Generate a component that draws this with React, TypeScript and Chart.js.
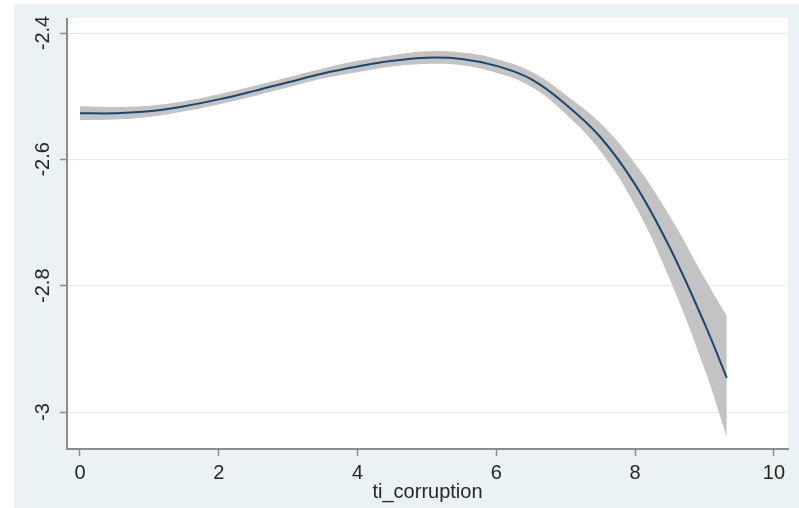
import React, { useEffect, useRef } from "react";
import { Chart, registerables } from "chart.js";

Chart.register(...registerables);

// Data
const X_VALUES = [0, 0.5, 1, 1.5, 2, 2.5, 3, 3.5, 4, 4.5, 5, 5.5, 6, 6.5, 7, 7.5, 8, 8.5, 9, 9.32];
const FIT_VALUES = [-2.527, -2.527, -2.524, -2.516, -2.505, -2.492, -2.478, -2.464, -2.453, -2.444, -2.439, -2.441, -2.452, -2.473, -2.513, -2.565, -2.64, -2.74, -2.86, -2.946];
const CI_UPPER = [-2.516, -2.517, -2.515, -2.508, -2.497, -2.484, -2.47, -2.456, -2.444, -2.435, -2.429, -2.431, -2.441, -2.461, -2.498, -2.543, -2.607, -2.69, -2.788, -2.848];
const CI_LOWER = [-2.538, -2.537, -2.533, -2.524, -2.513, -2.5, -2.486, -2.472, -2.462, -2.453, -2.449, -2.451, -2.463, -2.485, -2.528, -2.587, -2.673, -2.79, -2.932, -3.04];

const X_TICKS = [0, 2, 4, 6, 8, 10];
const Y_TICKS = [-3, -2.8, -2.6, -2.4];
const Y_TICK_LABELS = ["-3", "-2.8", "-2.6", "-2.4"];
const X_TITLE = "ti_corruption";

const X_MIN = -0.187;
const X_MAX = 10.202;
const Y_MIN = -3.0585;
const Y_MAX = -2.3778;

const FONT_FAMILY = "'Liberation Sans', Arial, sans-serif";
const TEXT_COLOR = "#262626";
const AXIS_COLOR = "#8c8c8c";

export default function App() {
  const canvasRef = useRef<HTMLCanvasElement | null>(null);

  useEffect(() => {
    if (!canvasRef.current) return;
    const pts = (ys: number[]) => X_VALUES.map((x, i) => ({ x, y: ys[i] }));

    const bgPlugin = {
      id: "stataBg",
      beforeDraw(chart: any) {
        const { ctx, width, height, chartArea } = chart;
        ctx.save();
        ctx.fillStyle = "#ffffff";
        ctx.fillRect(0, 0, width, height);
        ctx.fillStyle = "#eaf2f3";
        ctx.fillRect(14, 4, width - 14, height - 4);
        ctx.fillStyle = "#ffffff";
        ctx.fillRect(chartArea.left, chartArea.top - 1, chartArea.right - chartArea.left, chartArea.bottom - chartArea.top + 1);
        ctx.restore();
      },
    };

    const yLabelPlugin = {
      id: "yLabels",
      afterDraw(chart: any) {
        const { ctx } = chart;
        const ys = chart.scales.y;
        ctx.save();
        ctx.fillStyle = TEXT_COLOR;
        ctx.font = `20px ${FONT_FAMILY}`;
        ctx.textAlign = "center";
        ctx.textBaseline = "middle";
        Y_TICKS.forEach((v, i) => {
          const py = ys.getPixelForValue(v);
          ctx.save();
          ctx.translate(43, py);
          ctx.rotate(-Math.PI / 2);
          ctx.fillText(Y_TICK_LABELS[i], 0, 0);
          ctx.restore();
        });
        ctx.restore();
      },
    };

    const chart = new Chart(canvasRef.current, {
      type: "line",
      data: {
        datasets: [
          {
            label: "fit",
            data: pts(FIT_VALUES),
            borderColor: "#1a476f",
            borderWidth: 2,
            pointRadius: 0,
            fill: false,
            tension: 0.4,
          },
          {
            label: "upper",
            data: pts(CI_UPPER),
            borderWidth: 0,
            borderColor: "rgba(0,0,0,0)",
            backgroundColor: "#c3c3c3",
            pointRadius: 0,
            fill: "+1",
            tension: 0.4,
          },
          {
            label: "lower",
            data: pts(CI_LOWER),
            borderWidth: 0,
            borderColor: "rgba(0,0,0,0)",
            pointRadius: 0,
            fill: false,
            tension: 0.4,
          },
        ],
      },
      options: {
        animation: false,
        responsive: true,
        maintainAspectRatio: false,
        layout: { padding: { top: 19, right: 11, left: 0, bottom: 0 } },
        plugins: {
          legend: { display: false },
          tooltip: { enabled: false },
        },
        scales: {
          x: {
            type: "linear",
            min: X_MIN,
            max: X_MAX,
            afterBuildTicks: (scale: any) => {
              scale.ticks = X_TICKS.map((v) => ({ value: v }));
            },
            afterFit: (scale: any) => {
              scale.height = 59;
            },
            grid: {
              drawOnChartArea: false,
              drawTicks: true,
              tickLength: 7,
              tickColor: AXIS_COLOR,
              tickWidth: 1.5,
            },
            border: { display: true, color: AXIS_COLOR, width: 2 },
            ticks: {
              autoSkip: false,
              maxRotation: 0,
              minRotation: 0,
              padding: 5,
              color: TEXT_COLOR,
              font: { family: FONT_FAMILY, size: 20 },
              callback: (v: any) => String(v),
            },
            title: {
              display: true,
              text: X_TITLE,
              color: TEXT_COLOR,
              font: { family: FONT_FAMILY, size: 20 },
              padding: { top: 0, bottom: 4 },
            },
          },
          y: {
            type: "linear",
            min: Y_MIN,
            max: Y_MAX,
            afterBuildTicks: (scale: any) => {
              scale.ticks = Y_TICKS.map((v) => ({ value: v }));
            },
            afterFit: (scale: any) => {
              scale.width = 67;
            },
            grid: {
              drawOnChartArea: true,
              color: "#e4ecee",
              lineWidth: 1,
              drawTicks: true,
              tickLength: 7,
              tickColor: AXIS_COLOR,
              tickWidth: 1.5,
            },
            border: { display: true, color: AXIS_COLOR, width: 2 },
            ticks: { display: false },
          },
        },
      },
      plugins: [bgPlugin, yLabelPlugin],
    });

    return () => chart.destroy();
  }, []);

  return (
    <div style={{ position: "absolute", left: 0, top: 0, width: 799, height: 508 }}>
      <canvas ref={canvasRef} />
    </div>
  );
}
